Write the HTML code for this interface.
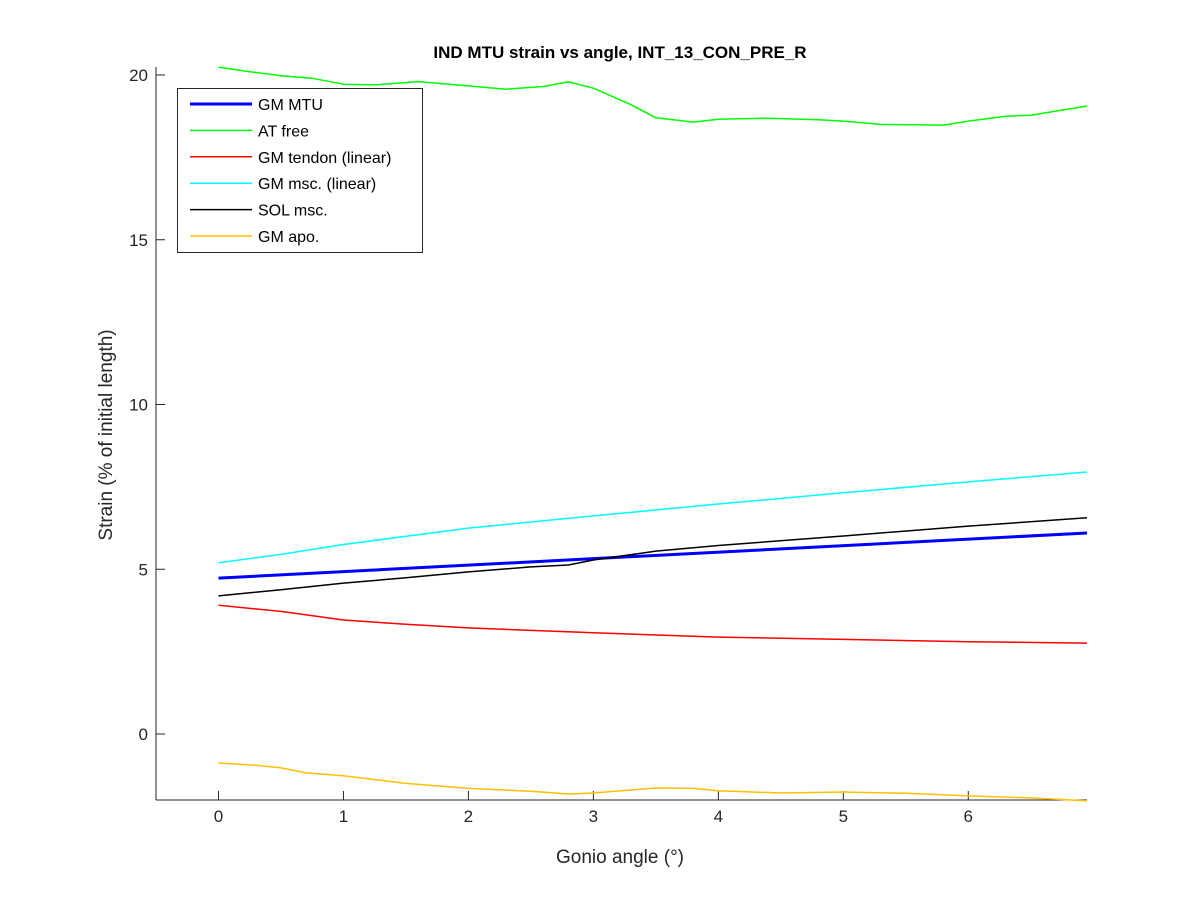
<!DOCTYPE html>
<html><head><meta charset="utf-8"><style>
body{margin:0;background:#fff;}
svg{display:block;font-family:"Liberation Sans",Arial,sans-serif;}
</style></head><body>
<svg id="chart" width="1200" height="900">
<rect width="1200" height="900" fill="#fff"/>
<text x="620" y="58" text-anchor="middle" font-size="17" font-weight="bold" fill="#000">IND MTU strain vs angle, INT_13_CON_PRE_R</text>
<text x="620" y="863" text-anchor="middle" font-size="19" fill="#262626">Gonio angle (°)</text>
<text transform="translate(112,435) rotate(-90)" text-anchor="middle" font-size="19" fill="#262626">Strain (% of initial length)</text>
<g id="axes"></g>
<g id="series"></g>
<g id="legend"></g>
</svg>
<script>
const xTicks=[0,1,2,3,4,5,6];
const yTicks=[0,5,10,15,20];
const seriesNames=["GM MTU","AT free","GM tendon (linear)","GM msc. (linear)","SOL msc.","GM apo."];
const seriesColors=["#0000ff","#00ff00","#ff0000","#00ffff","#000000","#ffc000"];
const mtuX=[0,6.95];
const mtuY=[4.73,6.1];
const atX=[0,0.25,0.5,0.75,1,1.25,1.6,2,2.3,2.6,2.8,3,3.3,3.5,3.8,4,4.4,4.8,5,5.3,5.8,6,6.3,6.5,6.95];
const atY=[20.24,20.1,19.98,19.9,19.72,19.7,19.8,19.67,19.57,19.65,19.79,19.6,19.1,18.7,18.57,18.66,18.69,18.64,18.6,18.5,18.48,18.6,18.75,18.78,19.06];
const tendonX=[0,0.5,1,1.5,2,3,4,5,6,6.95];
const tendonY=[3.91,3.72,3.46,3.33,3.22,3.07,2.94,2.87,2.8,2.76];
const mscX=[0,0.5,1,2,3,4,5,6,6.95];
const mscY=[5.2,5.45,5.75,6.25,6.62,6.98,7.32,7.65,7.95];
const solX=[0,0.5,1,1.5,2,2.5,2.8,3,3.5,4,5,6,6.95];
const solY=[4.19,4.38,4.58,4.74,4.92,5.07,5.13,5.28,5.55,5.72,6.01,6.31,6.56];
const apoX=[0,0.3,0.5,0.7,1,1.5,2,2.5,2.8,3,3.3,3.5,3.8,4,4.5,5,5.5,6,6.5,6.95];
const apoY=[-0.88,-0.95,-1.03,-1.18,-1.27,-1.5,-1.65,-1.74,-1.82,-1.79,-1.7,-1.64,-1.65,-1.72,-1.79,-1.76,-1.8,-1.88,-1.94,-2.03];

const X0=-0.5,X1=6.95,Y0=-2,Y1=20.25;
const PL=156,PR=1087,PT=67,PB=800;
const sx=v=>PL+(v-X0)/(X1-X0)*(PR-PL);
const sy=v=>734-v*32.95;
const NS="http://www.w3.org/2000/svg";
function mk(t,a,p){const e=document.createElementNS(NS,t);for(const k in a)e.setAttribute(k,a[k]);p.appendChild(e);return e;}
const axes=document.getElementById('axes');
let l=mk('line',{x1:PL,y1:PT,x2:PL,y2:PB,stroke:'#262626','stroke-width':1},axes);


l=mk('line',{x1:PL,y1:PB,x2:PR,y2:PB,stroke:'#262626','stroke-width':1},axes);


xTicks.forEach(v=>{const x=sx(v);
 const t=mk('line',{x1:x,y1:PB,x2:x,y2:PB-9,stroke:'#262626'},axes);
 
 
 const tx=mk('text',{x:x,y:PB+22,'text-anchor':'middle','font-size':17,fill:'#262626'},axes);tx.textContent=v;
 
 
});
yTicks.forEach(v=>{const y=sy(v);
 const t=mk('line',{x1:PL,y1:y,x2:PL+9,y2:y,stroke:'#262626'},axes);
 
 
 const tx=mk('text',{x:PL-8,y:y+6,'text-anchor':'end','font-size':17,fill:'#262626'},axes);tx.textContent=v;
 
 
});
const data=[[mtuX,mtuY],[atX,atY],[tendonX,tendonY],[mscX,mscY],[solX,solY],[apoX,apoY]];
const sg=document.getElementById('series');
const slugs=['gm-mtu','at-free','gm-tendon','gm-msc','sol-msc','gm-apo'];
data.forEach((d,i)=>{
 const pts=d[0].map((x,j)=>sx(x).toFixed(1)+','+sy(d[1][j]).toFixed(1)).join(' ');
 const p=mk('polyline',{points:pts,fill:'none',stroke:seriesColors[i],'stroke-width':i==0?3:1.5,'stroke-linejoin':'round'},sg);
 
 
});
const lg=document.getElementById('legend');
const box=mk('rect',{x:177.5,y:88.5,width:245,height:164,fill:'#fff',stroke:'#262626','stroke-width':1},lg);


seriesNames.forEach((n,i)=>{const y=104+i*26.4;
 const ln=mk('line',{x1:190,y1:y,x2:252,y2:y,stroke:seriesColors[i],'stroke-width':i==0?3:1.5},lg);
 
 
 const t=mk('text',{x:258,y:y+6,'font-size':16,fill:'#000'},lg);t.textContent=n;
 
 
});
</script>
</body></html>
